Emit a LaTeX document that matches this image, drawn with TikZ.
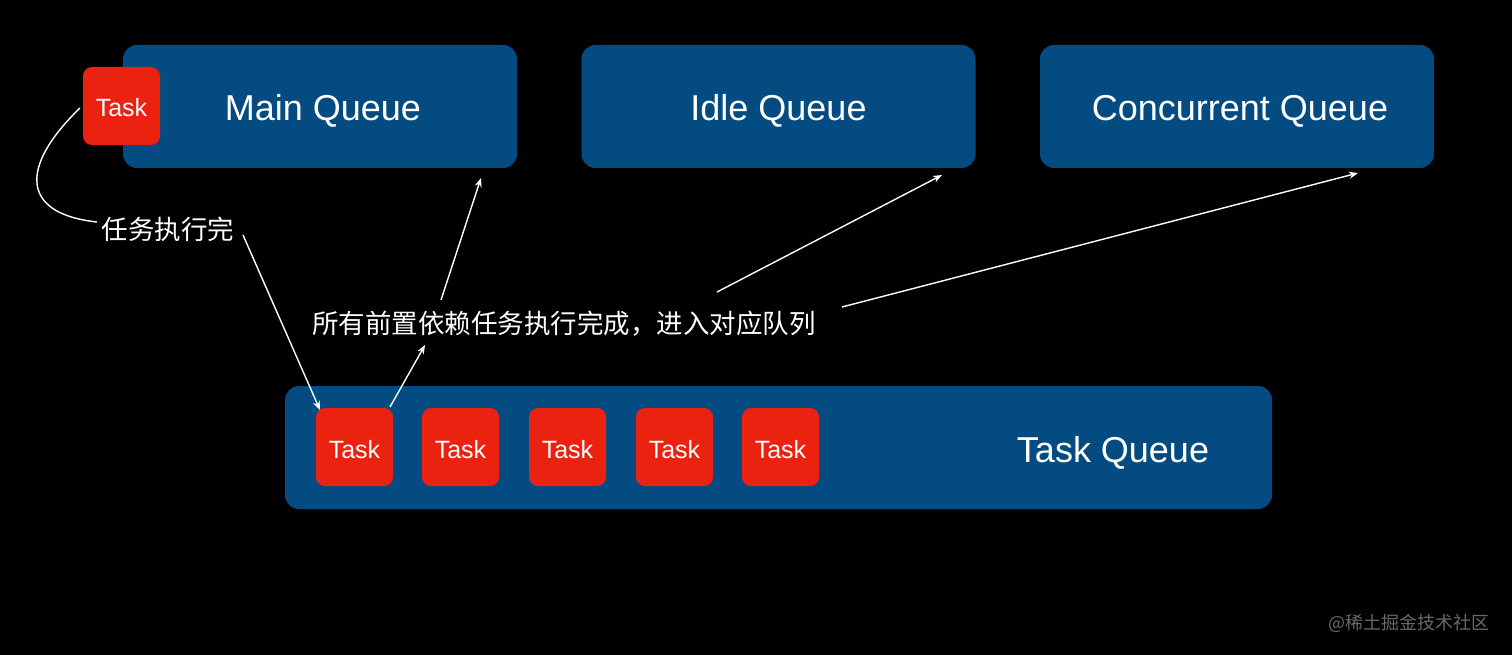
\documentclass[tikz,border=0pt]{standalone}
\usepackage{fontspec}
\setmainfont{Liberation Sans}
\newfontfamily\cjk{Noto Sans CJK SC}
\usetikzlibrary{arrows.meta}
\definecolor{qblue}{RGB}{3,75,128}
\definecolor{tred}{RGB}{236,34,17}
\definecolor{wmgray}{RGB}{105,105,105}
\begin{document}
\begin{tikzpicture}[x=1pt,y=-1pt,
  qtext/.style={text=white, text height=29pt, text depth=0pt, font=\fontsize{36}{40}\selectfont},
  queue/.style={qtext, fill=qblue, rounded corners=14pt, minimum width=394pt, minimum height=123pt, inner sep=0pt},
  taskbox/.style={fill=tred, rounded corners=9pt, minimum width=77pt, minimum height=78pt, inner sep=0pt, text=white, text height=22pt, text depth=0pt, font=\fontsize{25}{28}\selectfont},
  lbl/.style={text=white, inner sep=0pt, font=\cjk\fontsize{26.5}{30}\selectfont},
  conn/.style={draw=white, line width=1.4pt},
  arr/.style={conn, -{Stealth[length=9pt,width=7pt]}}]
\fill[black] (0,0) rectangle (1512,655);
\useasboundingbox (0,0) rectangle (1512,655);

% top queues
\node[queue] (mainq) at (320,106.5) {\hspace*{6pt}Main Queue};
\node[queue] (idleq) at (778.5,106.5) {Idle Queue};
\node[queue] (concq) at (1237,106.5) {\hspace*{6pt}Concurrent Queue};
\node[taskbox] (ttop) at (121.5,106) {Task};

% task queue
\node[queue, minimum width=987pt] (taskq) at (778.5,447.5) {};
\node[qtext, inner sep=0pt] (tqlabel) at (1113,447.5) {Task Queue};
\node[taskbox] (t1) at (354.5,447) {Task};
\node[taskbox] (t2) at (460.5,447) {Task};
\node[taskbox] (t3) at (567.5,447) {Task};
\node[taskbox] (t4) at (674.5,447) {Task};
\node[taskbox] (t5) at (780.5,447) {Task};

% labels
\node[lbl] (lab1) at (168,229) {任务执行完};
\node[lbl] (lab2) at (564,324) {所有前置依赖任务执行完成，进入对应队列};

% connector coordinates
\coordinate (c1s) at (80,108);
\coordinate (c1e) at (97,222);
\coordinate (c2s) at (243,235);
\coordinate (c2e) at (320,410);
\coordinate (c3s) at (390,407);
\coordinate (c3e) at (425,345);
\coordinate (c4s) at (441,300);
\coordinate (c4e) at (481,178);
\coordinate (c5s) at (717,292);
\coordinate (c5e) at (942,175);
\coordinate (c6s) at (842,307);
\coordinate (c6e) at (1358,173);

\draw[conn] (c1s) .. controls (18,168) and (22,214) .. (c1e);
\draw[arr] (c2s) -- (c2e);
\draw[arr] (c3s) -- (c3e);
\draw[arr] (c4s) -- (c4e);
\draw[arr] (c5s) -- (c5e);
\draw[arr] (c6s) -- (c6e);

% watermark
\node[text=wmgray, inner sep=0pt, anchor=east, font=\cjk\fontsize{18}{20}\selectfont] (wm) at (1490,623) {@稀土掘金技术社区};
\end{tikzpicture}
\end{document}
